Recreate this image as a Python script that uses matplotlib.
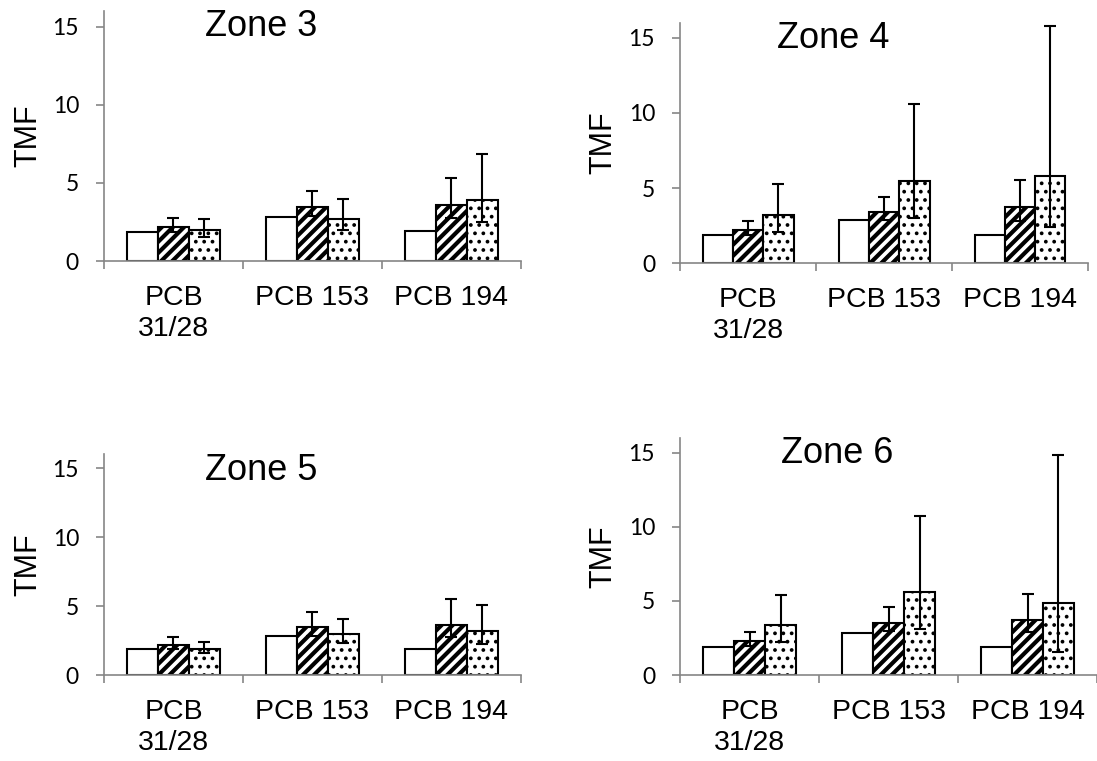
import numpy as np
import matplotlib.pyplot as plt
from matplotlib.ticker import FixedLocator

categories = ["PCB\n31/28", "PCB 153", "PCB 194"]
zones = ["Zone 3", "Zone 4", "Zone 5", "Zone 6"]

# white bars (no error bars)
white = {
    "Zone 3": [1.88, 2.84, 1.90],
    "Zone 4": [1.90, 2.85, 1.90],
    "Zone 5": [1.90, 2.86, 1.90],
    "Zone 6": [1.89, 2.85, 1.89],
}

# hatched bars, with lower / upper ends of the error bars
striped = {
    "Zone 3": [2.18, 3.48, 3.59],
    "Zone 4": [2.23, 3.40, 3.72],
    "Zone 5": [2.19, 3.49, 3.61],
    "Zone 6": [2.29, 3.52, 3.70],
}
striped_lo = {
    "Zone 3": [1.85, 2.88, 2.74],
    "Zone 4": [1.90, 2.85, 2.83],
    "Zone 5": [1.90, 2.86, 2.79],
    "Zone 6": [1.95, 2.95, 2.90],
}
striped_hi = {
    "Zone 3": [2.74, 4.50, 5.32],
    "Zone 4": [2.79, 4.40, 5.55],
    "Zone 5": [2.74, 4.55, 5.49],
    "Zone 6": [2.90, 4.56, 5.45],
}

# dotted bars
dotted = {
    "Zone 3": [2.00, 2.71, 3.93],
    "Zone 4": [3.20, 5.50, 5.80],
    "Zone 5": [1.88, 2.98, 3.20],
    "Zone 6": [3.35, 5.59, 4.87],
}
dotted_lo = {
    "Zone 3": [1.56, 2.00, 2.52],
    "Zone 4": [2.10, 2.98, 2.41],
    "Zone 5": [1.59, 2.33, 2.26],
    "Zone 6": [2.24, 3.10, 1.53],
}
dotted_hi = {
    "Zone 3": [2.67, 3.99, 6.88],
    "Zone 4": [5.28, 10.57, 15.80],
    "Zone 5": [2.40, 4.05, 5.10],
    "Zone 6": [5.43, 10.71, 14.88],
}

yticks = [0, 5, 10, 15]

# axes boxes in figure fractions (left, bottom, width, height)
boxes = {
    "Zone 3": [0.0948, 0.657, 0.3801, 0.3285],
    "Zone 4": [0.6199, 0.654, 0.3719, 0.3162],
    "Zone 5": [0.0948, 0.1126, 0.3801, 0.2904],
    "Zone 6": [0.6199, 0.113, 0.3801, 0.3114],
}
title_pos = {
    "Zone 3": (0.376, 0.900),
    "Zone 4": (0.375, 0.894),
    "Zone 5": (0.376, 0.884),
    "Zone 6": (0.378, 0.893),
}
label_x = {"Zone 3": -0.146, "Zone 4": -0.150, "Zone 5": -0.146, "Zone 6": -0.147}

axis_color = "#868686"
w = 0.223
x = np.arange(len(categories))

fig = plt.figure(figsize=(10.97, 7.61), dpi=100)

for z in zones:
    ax = fig.add_axes(boxes[z])

    b1 = ax.bar(x - w, white[z], w, color="white", edgecolor="black", linewidth=1.5, zorder=2)
    b2 = ax.bar(x, striped[z], w, color="white", edgecolor="black", linewidth=1.5,
                hatch="///", zorder=2)
    b3 = ax.bar(x + w, dotted[z], w, color="white", edgecolor="black", linewidth=1.5,
                hatch="..", zorder=2)
    for p in b2:
        if hasattr(p, "set_hatch_linewidth"):
            p.set_hatch_linewidth(3.0)
    for p in b3:
        if hasattr(p, "set_hatch_linewidth"):
            p.set_hatch_linewidth(1.5)

    s = np.array(striped[z])
    d = np.array(dotted[z])
    s_err = [s - np.array(striped_lo[z]), np.array(striped_hi[z]) - s]
    d_err = [d - np.array(dotted_lo[z]), np.array(dotted_hi[z]) - d]
    ax.errorbar(x, s, yerr=s_err, fmt="none", ecolor="black", elinewidth=1.5,
                capsize=4, capthick=1.5, zorder=3)
    ax.errorbar(x + w, d, yerr=d_err, fmt="none", ecolor="black", elinewidth=1.5,
                capsize=4, capthick=1.5, zorder=3)

    ax.set_xlim(-0.5, 2.5)
    ax.set_ylim(0, 16)

    for side in ["top", "right"]:
        ax.spines[side].set_visible(False)
    for side in ["left", "bottom"]:
        ax.spines[side].set_color(axis_color)
        ax.spines[side].set_linewidth(1.2)

    ax.set_yticks(yticks)
    ax.set_yticklabels([str(t) for t in yticks], fontfamily="Lato", fontsize=16.5)
    ax.tick_params(axis="y", direction="out", length=6, width=1.2, color=axis_color, pad=12)

    ax.set_xticks(x)
    ax.set_xticklabels(categories, fontfamily="Liberation Sans", fontsize=20.5, linespacing=1.25)
    ax.xaxis.set_minor_locator(FixedLocator([-0.5, 0.5, 1.5, 2.5]))
    ax.tick_params(axis="x", which="major", length=0, pad=17)
    ax.tick_params(axis="x", which="minor", direction="out", length=6, width=1.2, color=axis_color)

    ax.set_ylabel("TMF", fontfamily="Liberation Sans", fontsize=22)
    ax.yaxis.set_label_coords(label_x[z], 0.5)

    tx, ty = title_pos[z]
    ax.text(tx, ty, z, transform=ax.transAxes, ha="center", va="baseline",
            fontfamily="Liberation Sans", fontsize=26)

plt.savefig("out.png", dpi=100)
